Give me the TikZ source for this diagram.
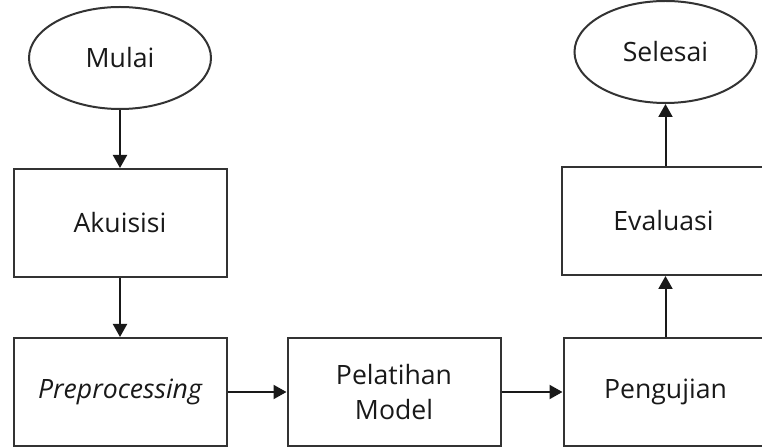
\documentclass[tikz,border=0pt]{standalone}
\usepackage{fontspec}
\setmainfont{Open Sans}
\usepackage{tikz}
\usetikzlibrary{shapes.geometric, arrows.meta, positioning}

\begin{document}
\begin{tikzpicture}[
    x=0.5pt, y=-0.5pt,
    font=\fontsize{13.3}{17.5}\selectfont,
    terminal/.style={ellipse, draw=black!80, line width=1pt, minimum width=91pt, minimum height=51pt, text=black!90},
    box/.style={rectangle, draw=black!80, line width=1pt, minimum width=106.5pt, minimum height=54pt, align=center, text=black!90},
    arrow/.style={-{Triangle[length=6.5pt, width=7pt]}, line width=1pt, black!90}
]
\useasboundingbox (0,0) rectangle (762,448);
\clip (0,0) rectangle (762,448);

% Left column
\node[terminal] at (120,58) (mulai) {Mulai};
\node[box, below=29pt of mulai] (akuisisi) {Akuisisi};
\node[box, below=29.5pt of akuisisi] (prep) {\itshape Preprocessing};

% Bottom row
\node[box, right=29.5pt of prep] (pelatihan) {Pelatihan\\Model};
\node[box, minimum width=112pt, right=30.5pt of pelatihan] (pengujian) {\hspace*{-10pt}Pengujian};

% Right column
\node[box, minimum width=114pt, above=30.5pt of pengujian] (evaluasi) {\hspace*{-12pt}Evaluasi};
\node[terminal, above=31pt of evaluasi.north, anchor=south, xshift=-5pt] (selesai) {Selesai};

% Connections
\draw[arrow] (mulai) -- (akuisisi);
\draw[arrow] (akuisisi) -- (prep);
\draw[arrow] (prep) -- (pelatihan);
\draw[arrow] (pelatihan) -- (pengujian);
\draw[arrow] (pengujian.north -| selesai) -- (evaluasi.south -| selesai);
\draw[arrow] (evaluasi.north -| selesai) -- (selesai);

\end{tikzpicture}
\end{document}
